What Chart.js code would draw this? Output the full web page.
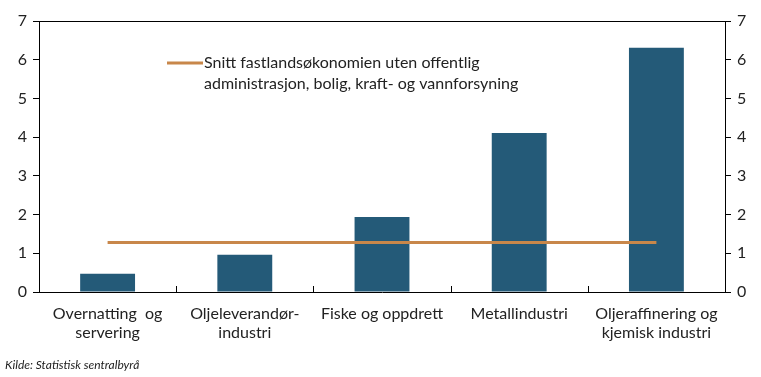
<!DOCTYPE html>
<html lang="no">
<head>
<meta charset="utf-8">
<title>Produktivitet etter næring</title>
<script src="https://cdn.jsdelivr.net/npm/chart.js@4/dist/chart.umd.min.js"></script>
<style>
  html, body { margin: 0; padding: 0; background: #fff; }
  #wrap { width: 761px; height: 377px; position: relative; }
</style>
</head>
<body>
<div id="wrap"><canvas id="chart"></canvas></div>
<script>
// ─── Data ─────────────────────────────────────────────────────────────────────
const KATEGORIER = [
  ['Overnatting  og', 'servering'],
  ['Oljeleverandør-', 'industri'],
  'Fiske og oppdrett',
  'Metallindustri',
  ['Oljeraffinering og', 'kjemisk industri'],
];
const VERDIER = [0.47, 0.96, 1.94, 4.11, 6.31];
const SNITT   = [1.28, 1.28, 1.28, 1.28, 1.28];
const SNITT_LABEL = 'Snitt fastlandsøkonomien uten offentlig\nadministrasjon, bolig, kraft- og vannforsyning';
const Y_TICKS = [0, 1, 2, 3, 4, 5, 6, 7];
const KILDE = 'Kilde: Statistisk sentralbyrå';

// ─── Stil ─────────────────────────────────────────────────────────────────────
const COR_BARRA = '#245a78';
const COR_LINHA = '#c8874a';
const FONTE = 'Lato, "Open Sans", sans-serif';
const COR_TEXTO = '#222';

// ─── Plugins ──────────────────────────────────────────────────────────────────
const extras = {
  id: 'extras',
  afterDraw(chart) {
    const { ctx, chartArea: a, scales: { x } } = chart;
    ctx.save();
    ctx.strokeStyle = '#000';
    ctx.lineWidth = 1;

    // linha de cima do quadro
    ctx.beginPath();
    ctx.moveTo(a.left, a.top + 0.5);
    ctx.lineTo(a.right, a.top + 0.5);
    ctx.stroke();

    // marcas internas entre categorias
    const passo = x.width / KATEGORIER.length;
    ctx.beginPath();
    for (let i = 1; i < KATEGORIER.length; i++) {
      const px = Math.round(x.left + passo * i) + 0.5;
      ctx.moveTo(px, a.bottom);
      ctx.lineTo(px, a.bottom - 6);
    }
    ctx.stroke();

    // legenda em duas linhas
    const lx = a.left + 128;
    const ly = a.top + 42;
    ctx.strokeStyle = COR_LINHA;
    ctx.lineWidth = 3;
    ctx.beginPath();
    ctx.moveTo(lx, ly);
    ctx.lineTo(lx + 36, ly);
    ctx.stroke();
    ctx.fillStyle = COR_TEXTO;
    ctx.font = `16px ${FONTE}`;
    ctx.textBaseline = 'middle';
    ctx.textAlign = 'left';
    SNITT_LABEL.split('\n').forEach((linha, i) => ctx.fillText(linha, lx + 37, ly + i * 21));

    // fonte
    ctx.font = `italic 12px ${FONTE}`;
    ctx.fillText(KILDE, 5, 365);
    ctx.restore();
  },
};

// ─── Gráfico ──────────────────────────────────────────────────────────────────
const eixoY = (pos) => ({
  type: 'linear',
  position: pos,
  min: 0,
  max: 7,
  afterBuildTicks: (s) => { s.ticks = Y_TICKS.map(v => ({ value: v })); },
  afterFit: (s) => { s.width = pos === 'left' ? 39 : 36; },
  grid: { drawOnChartArea: false, drawTicks: true, tickLength: 6, color: '#000' },
  border: { display: true, color: '#000', width: 1 },
  ticks: { color: COR_TEXTO, font: { family: FONTE, size: 16 }, padding: 6 },
});

new Chart(document.getElementById('chart'), {
  data: {
    labels: KATEGORIER,
    datasets: [
      {
        type: 'line',
        label: SNITT_LABEL,
        data: SNITT,
        borderColor: COR_LINHA,
        borderWidth: 3,
        pointRadius: 0,
        yAxisID: 'y',
        order: 0,
      },
      {
        type: 'bar',
        label: 'Næring',
        data: VERDIER,
        backgroundColor: COR_BARRA,
        barPercentage: 0.4,
        categoryPercentage: 1,
        yAxisID: 'y',
        order: 1,
      },
    ],
  },
  options: {
    responsive: true,
    maintainAspectRatio: false,
    animation: false,
    layout: { padding: { top: 21, left: 0, right: 0, bottom: 0 } },
    plugins: { legend: { display: false }, tooltip: { enabled: false } },
    scales: {
      x: {
        offset: true,
        afterFit: (s) => { s.height = 85; },
        grid: { display: false },
        border: { display: true, color: '#000', width: 1 },
        ticks: { color: COR_TEXTO, font: { family: FONTE, size: 16, lineHeight: 1.2 }, padding: 4, maxRotation: 0, autoSkip: false },
      },
      y: eixoY('left'),
      y2: eixoY('right'),
    },
  },
  plugins: [extras],
});
</script>
</body>
</html>
